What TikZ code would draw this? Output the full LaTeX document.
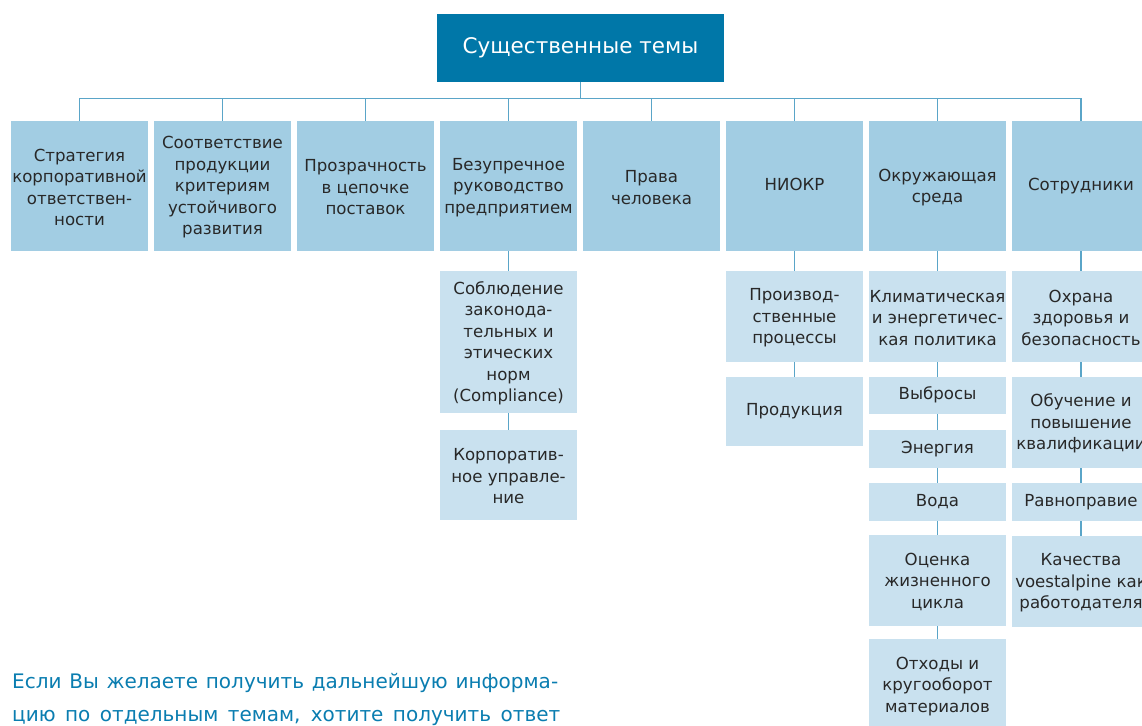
\documentclass[tikz,border=0pt]{standalone}
\usepackage{fontspec}
\setmainfont{DejaVu Sans}
\definecolor{topblue}{RGB}{0,119,168}
\definecolor{lvlone}{RGB}{162,205,227}
\definecolor{lvltwo}{RGB}{201,225,239}
\definecolor{linecol}{RGB}{90,165,200}
\definecolor{txtcol}{RGB}{40,40,40}
\definecolor{infocol}{RGB}{10,125,176}
\tikzset{
  topbox/.style={fill=topblue, text=white, minimum width=287pt, minimum height=68pt, inner sep=0pt, font=\fontsize{21.5}{26}\selectfont},
  onebox/.style={fill=lvlone, text=txtcol, minimum width=137pt, minimum height=130pt, inner sep=0pt, align=center, font=\fontsize{16.6}{21.5}\selectfont},
  twobox/.style={fill=lvltwo, text=txtcol, minimum width=137pt, inner sep=0pt, align=center, font=\fontsize{16.6}{21.5}\selectfont},
  conn/.style={draw=linecol, line width=1.4pt},
  info/.style={text=infocol, anchor=base west, inner sep=0pt, font=\fontsize{20}{26}\selectfont}
}
\begin{document}
\begin{tikzpicture}[x=1pt,y=-1pt]
\useasboundingbox (0,0) rectangle (1142,725);
\clip (0,0) rectangle (1142,725);
% top
\node[topbox] (top) at (580.5,48) {Существенные темы};
% level 1
\node[onebox] (c1) at (79.5,186) {\strut Стратегия\\корпоративной\\ответствен-\\ности};
\node[onebox] (c2) at (222.5,186) {\strut Соответствие\\продукции\\критериям\\устойчивого\\развития};
\node[onebox] (c3) at (365.5,186) {\strut Прозрачность\\в цепочке\\поставок};
\node[onebox] (c4) at (508.5,186) {\strut Безупречное\\руководство\\предприятием};
\node[onebox] (c5) at (651.5,186) {\strut Права\\человека};
\node[onebox] (c6) at (794.5,186) {\strut НИОКР};
\node[onebox] (c7) at (937.5,186) {\strut Окружающая\\среда};
\node[onebox, minimum width=138pt] (c8) at (1081,186) {\strut Сотрудники};
% level 2 column 4
\node[twobox, minimum height=142pt] (d1) at (508.5,342) {\strut Соблюдение\\законода-\\тельных и\\этических\\норм\\(Compliance)};
\node[twobox, minimum height=90pt] (d2) at (508.5,475) {\strut Корпоратив-\\ное управле-\\ние};
% column 6
\node[twobox, minimum height=91pt] (e1) at (794.5,316.5) {\strut Производ-\\ственные\\процессы};
\node[twobox, minimum height=69pt] (e2) at (794.5,411.5) {\strut Продукция};
% column 7
\node[twobox, minimum height=91pt] (f1) at (937.5,316.5) {\strut Климатическая\\и энергетичес-\\кая политика};
\node[twobox, minimum height=37pt] (f2) at (937.5,395.5) {\strut Выбросы};
\node[twobox, minimum height=38pt] (f3) at (937.5,449) {\strut Энергия};
\node[twobox, minimum height=38pt] (f4) at (937.5,502) {\strut Вода};
\node[twobox, minimum height=91pt] (f5) at (937.5,580.5) {\strut Оценка\\жизненного\\цикла};
\node[twobox, minimum height=92pt] (f6) at (937.5,685) {\strut Отходы и\\кругооборот\\материалов};
% column 8
\node[twobox, minimum width=138pt, minimum height=91pt] (g1) at (1081,316.5) {\strut Охрана\\здоровья и\\безопасность};
\node[twobox, minimum width=138pt, minimum height=91pt] (g2) at (1081,422.5) {\strut Обучение и\\повышение\\квалификации};
\node[twobox, minimum width=138pt, minimum height=38pt] (g3) at (1081,502) {\strut Равноправие};
\node[twobox, minimum width=138pt, minimum height=91pt] (g4) at (1081,581.5) {\strut Качества\\voestalpine как\\работодателя};
% connectors top -> level 1
\foreach \c in {c1,c2,c3,c4,c5,c6,c7,c8}{
  \draw[conn] (top.south) -- ++(0,16) -| (\c.north);
}
% level 2 connectors
\draw[conn] (c4.south) -- (d1.north);
\draw[conn] (d1.south) -- (d2.north);
\draw[conn] (c6.south) -- (e1.north);
\draw[conn] (e1.south) -- (e2.north);
\draw[conn] (c7.south) -- (f1.north);
\draw[conn] (f1.south) -- (f2.north);
\draw[conn] (f2.south) -- (f3.north);
\draw[conn] (f3.south) -- (f4.north);
\draw[conn] (f4.south) -- (f5.north);
\draw[conn] (f5.south) -- (f6.north);
\draw[conn] (c8.south) -- (g1.north);
\draw[conn] (g1.south) -- (g2.north);
\draw[conn] (g2.south) -- (g3.north);
\draw[conn] (g3.south) -- (g4.north);
% info text
\node[info] (i1) at (12,688) {\makebox[546pt][s]{Если Вы желаете получить дальнейшую информа-}};
\node[info] (i2) at (12,721) {\makebox[548pt][s]{цию по отдельным темам, хотите получить ответ}};
\end{tikzpicture}
\end{document}
